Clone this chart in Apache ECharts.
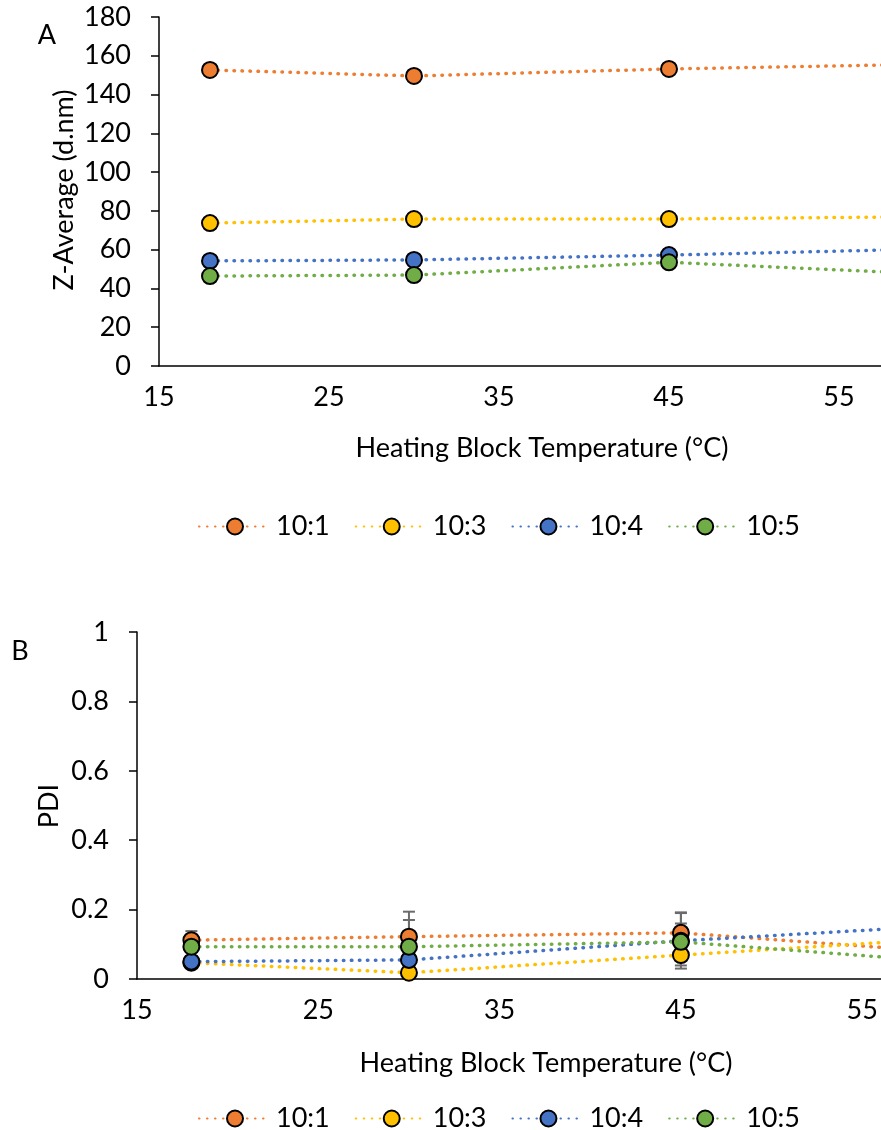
<!DOCTYPE html>
<html>
<head>
<meta charset="utf-8">
<script src="https://cdn.jsdelivr.net/npm/echarts@6/dist/echarts.min.js"></script>
<style>
html,body{margin:0;padding:0;background:#fff;}
#chart{width:881px;height:1130px;}
</style>
</head>
<body>
<div id="chart"></div>
<script>
// ---- data ----
const seriesNames = ['10:1', '10:3', '10:4', '10:5'];
const temps = [18, 30, 45, 60];
const xTicks = [15, 25, 35, 45, 55];

const zAvg_1 = [152.7, 149.6, 153.2, 155.6];
const zAvg_3 = [73.7, 75.8, 75.8, 77.0];
const zAvg_4 = [54.2, 54.7, 57.2, 60.3];
const zAvg_5 = [46.4, 46.9, 53.5, 47.6];
const zErr_1 = [1.5, 1.5, 1.0, 1.5];
const zErr_3 = [1.0, 1.0, 1.0, 1.0];
const zErr_4 = [1.0, 1.0, 3.0, 1.0];
const zErr_5 = [1.0, 1.0, 1.5, 1.0];

const pdi_1 = [0.112, 0.122, 0.133, 0.076];
const pdi_3 = [0.047, 0.018, 0.069, 0.118];
const pdi_4 = [0.050, 0.055, 0.110, 0.155];
const pdi_5 = [0.093, 0.093, 0.107, 0.048];
const pdiErr_1 = [0.026, 0.072, 0.059, 0.02];
const pdiErr_3 = [0.01, 0.01, 0.030, 0.01];
const pdiErr_4 = [0.01, 0.01, 0.080, 0.01];
const pdiErr_5 = [0.01, 0.077, 0.053, 0.01];

// ---- style ----
const colors = ['#ED7D31', '#FFC000', '#4472C4', '#70AD47'];
const FONT = 'Lato';
const FS = 27;

const chart = echarts.init(document.getElementById('chart'), null, {renderer: 'canvas'});

function pairs(xs, ys) { return xs.map((x, i) => [x, ys[i]]); }
function errData(xs, ys, es) { return xs.map((x, i) => [x, ys[i] - es[i], ys[i] + es[i]]); }

function renderErr(params, api) {
  const x = api.value(0), lo = api.value(1), hi = api.value(2);
  const p1 = api.coord([x, lo]);
  const p2 = api.coord([x, hi]);
  const w = 6;
  const style = {stroke: '#6b6b6b', lineWidth: 2, fill: null};
  return {
    type: 'group',
    children: [
      {type: 'line', shape: {x1: p1[0], y1: p1[1], x2: p2[0], y2: p2[1]}, style: style},
      {type: 'line', shape: {x1: p1[0] - w, y1: p1[1], x2: p1[0] + w, y2: p1[1]}, style: style},
      {type: 'line', shape: {x1: p2[0] - w, y1: p2[1], x2: p2[0] + w, y2: p2[1]}, style: style}
    ]
  };
}

const topVals = [zAvg_1, zAvg_3, zAvg_4, zAvg_5];
const topErrs = [zErr_1, zErr_3, zErr_4, zErr_5];
const botVals = [pdi_1, pdi_3, pdi_4, pdi_5];
const botErrs = [pdiErr_1, pdiErr_3, pdiErr_4, pdiErr_5];

const series = [];
function addSeries(vals, errs, idx) {
  vals.forEach((v, i) => {
    series.push({
      type: 'custom', name: 'err' + idx + i, xAxisIndex: idx, yAxisIndex: idx,
      renderItem: renderErr, data: errData(temps, v, errs[i]), z: 2, silent: true,
      clip: false
    });
  });
  vals.forEach((v, i) => {
    series.push({
      type: 'line', name: seriesNames[i], xAxisIndex: idx, yAxisIndex: idx,
      data: pairs(temps, v), symbol: 'circle', symbolSize: 16, z: 3 + i,
      clip: false,
      lineStyle: {color: colors[i], width: 3.5, type: [0.5, 7.5], cap: 'round'},
      itemStyle: {color: colors[i], borderColor: '#000', borderWidth: 2},
      emphasis: {disabled: true},
      animation: false
    });
  });
}
addSeries(topVals, topErrs, 0);
addSeries(botVals, botErrs, 1);

const axisLabelStyle = {color: '#000', fontFamily: FONT, fontSize: FS};

function xAxis(gridIndex) {
  return {
    type: 'value', gridIndex: gridIndex, min: 15, max: 65, interval: 10,
    axisLine: {show: true, lineStyle: {color: '#000', width: 1.5}},
    axisTick: {show: false},
    splitLine: {show: false},
    axisLabel: Object.assign({margin: 18, formatter: v => (xTicks.indexOf(v) >= 0 ? String(v) : '')}, axisLabelStyle)
  };
}
function yAxis(gridIndex, max, interval) {
  return {
    type: 'value', gridIndex: gridIndex, min: 0, max: max, interval: interval,
    axisLine: {show: true, lineStyle: {color: '#000', width: 1.5}},
    axisTick: {show: true, length: 8, inside: false, lineStyle: {color: '#000', width: 1.5}},
    splitLine: {show: false},
    axisLabel: Object.assign({margin: 28}, axisLabelStyle)
  };
}

function legend(top) {
  return {
    data: seriesNames, left: 193, top: top, orient: 'horizontal',
    itemWidth: 72, itemHeight: 20, itemGap: 25,
    textStyle: {color: '#000', fontFamily: FONT, fontSize: FS},
    selectedMode: false
  };
}

function txt(x, y, s, rot) {
  return {
    type: 'text', x: x, y: y, rotation: rot || 0,
    style: {text: s, fill: '#000', font: FS + 'px ' + FONT, align: 'center', verticalAlign: 'middle'}
  };
}

chart.setOption({
  animation: false,
  backgroundColor: '#fff',
  grid: [
    {left: 159, top: 17, width: 850, height: 349, outerBoundsMode: 'none', containLabel: false},
    {left: 137, top: 632, width: 906.5, height: 347, outerBoundsMode: 'none', containLabel: false}
  ],
  xAxis: [xAxis(0), xAxis(1)],
  yAxis: [yAxis(0, 180, 20), yAxis(1, 1, 0.2)],
  legend: [legend(523 - 15), legend(1115 - 15)],
  graphic: [
    txt(47, 35, 'A'),
    txt(20, 651, 'B'),
    txt(64, 190, 'Z-Average (d.nm)', Math.PI / 2),
    txt(49, 806, 'PDI', Math.PI / 2),
    txt(542, 448, 'Heating Block Temperature (°C)'),
    txt(546, 1063, 'Heating Block Temperature (°C)')
  ],
  series: series
});
</script>
</body>
</html>
